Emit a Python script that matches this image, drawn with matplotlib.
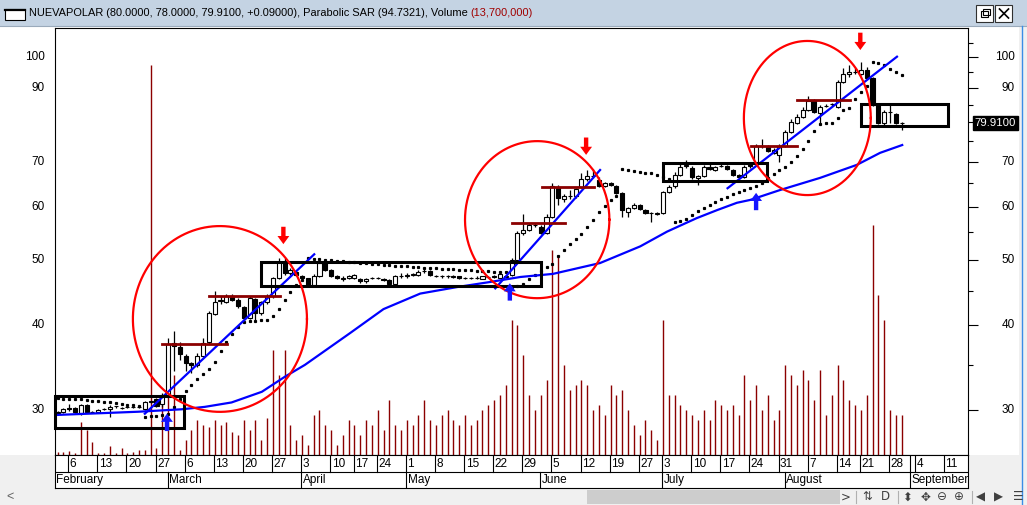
import numpy as np
import matplotlib
matplotlib.use("Agg")
import matplotlib.pyplot as plt
from matplotlib.patches import Rectangle
from matplotlib.ticker import NullFormatter, FixedLocator
from matplotlib.transforms import blended_transform_factory

plt.rcParams['font.family'] = ['Liberation Sans', 'DejaVu Sans']

# ---------------- data ----------------
opens = [29.65, 29.8, 30.2, 30.2, 29.65, 30.5, 29.8, 29.75, 30.1, 30.1,
         30.35, 30.2, 30.3, 30.3, 30.3, 30.1, 30.85, 31.1, 30.6, 31.6,
         37.7, 37.2, 36.1, 35.2, 34.9, 36.1, 37.8, 41.6, 43.5, 43.4,
         44.2, 43.7, 42.6, 41.0, 43.8, 41.7, 43.3, 44.2, 47.0, 49.7,
         47.9, 48.0, 47.4, 47.0, 45.9, 47.4, 49.5, 48.3, 47.3, 46.8,
         47.0, 47.1, 46.8, 46.5, 47.0, 47.0, 46.9, 46.7, 46.1, 47.3,
         47.3, 47.5, 47.5, 48.1, 48.1, 47.4, 47.3, 47.3, 47.2, 47.3,
         47.0, 47.0, 47.0, 46.9, 47.2, 47.2, 47.1, 47.2, 47.5, 50.0,
         54.9, 55.4, 56.3, 56.0, 54.8, 58.0, 64.0, 61.6, 62.2, 62.2,
         64.2, 65.9, 66.6, 65.7, 64.4, 65.05, 64.4, 62.9, 58.9, 59.7,
         60.35, 59.3, 58.7, 58.5, 58.7, 63.1, 64.4, 66.9, 69.0, 68.5,
         66.2, 66.6, 68.7, 68.0, 69.0, 69.0, 68.0, 66.9, 66.4, 69.3,
         69.4, 73.7, 73.6, 72.0, 71.6, 73.8, 77.5, 79.9, 81.4, 83.4,
         86.1, 82.5, 84.7, 85.1, 84.4, 91.8, 94.4, 95.0, 94.4, 95.7,
         93.1, 84.9, 79.8, 82.9, 82.3, 79.82]
highs = [29.9, 30.2, 30.6, 30.3, 30.6, 30.6, 29.9, 30.05, 30.15, 30.5,
         30.4, 30.3, 30.4, 30.4, 30.4, 30.9, 30.9, 31.2, 31.8, 38.3,
         39.2, 37.8, 36.3, 35.3, 36.4, 38.3, 42.0, 45.0, 44.3, 44.6,
         44.5, 43.9, 42.8, 44.2, 44.0, 43.5, 44.6, 47.2, 50.3, 50.3,
         48.6, 48.4, 47.6, 47.1, 47.7, 49.7, 49.6, 48.5, 47.5, 47.3,
         47.6, 47.7, 47.0, 47.0, 47.2, 47.2, 47.0, 46.8, 47.5, 47.9,
         47.8, 47.9, 48.3, 48.5, 48.3, 47.6, 47.5, 47.5, 47.5, 47.4,
         47.2, 47.2, 47.3, 47.4, 47.4, 47.5, 47.8, 47.6, 50.4, 55.3,
         58.5, 56.8, 56.8, 56.3, 58.5, 65.0, 64.5, 62.6, 63.5, 64.0,
         67.3, 68.0, 68.2, 66.5, 65.3, 65.3, 64.6, 63.1, 60.0, 60.7,
         60.6, 59.5, 59.0, 59.0, 63.4, 64.6, 67.5, 69.6, 70.4, 69.0,
         66.9, 69.1, 69.8, 69.0, 70.0, 69.2, 68.2, 67.1, 69.2, 69.6,
         74.2, 75.6, 74.0, 73.2, 74.3, 78.0, 80.8, 82.4, 84.3, 87.5,
         86.5, 84.8, 85.3, 85.5, 92.3, 96.3, 97.3, 96.4, 98.2, 96.5,
         93.5, 85.2, 83.5, 85.4, 82.6, 80.0]
lows = [29.6, 29.7, 29.9, 29.7, 29.5, 29.7, 29.7, 29.7, 30.0, 29.3,
        30.2, 30.1, 30.2, 30.2, 30.2, 30.0, 30.7, 30.3, 30.3, 31.4,
        34.3, 35.5, 34.3, 34.0, 34.7, 35.9, 37.6, 41.4, 43.0, 43.2,
        43.5, 42.5, 40.6, 40.9, 40.7, 41.5, 43.0, 44.0, 46.8, 47.5,
        47.6, 47.4, 46.9, 45.6, 45.7, 47.2, 48.1, 47.2, 46.9, 46.6,
        46.8, 46.9, 46.3, 46.3, 46.8, 46.8, 46.6, 45.9, 46.0, 47.0,
        47.1, 47.3, 47.3, 47.8, 47.3, 47.2, 47.1, 47.1, 47.0, 46.8,
        46.8, 46.8, 46.9, 46.8, 47.0, 47.0, 47.0, 47.0, 47.3, 49.8,
        54.5, 55.2, 56.0, 54.6, 54.6, 57.8, 60.4, 60.9, 61.5, 61.8,
        63.9, 65.5, 66.2, 64.1, 64.1, 64.3, 62.7, 58.0, 58.0, 59.5,
        59.3, 58.5, 56.9, 58.3, 58.5, 62.9, 64.0, 66.7, 68.5, 66.0,
        64.5, 66.4, 68.0, 67.8, 68.6, 68.0, 66.7, 66.2, 66.2, 68.5,
        69.1, 73.3, 72.3, 71.7, 70.0, 73.5, 77.2, 79.6, 81.2, 83.2,
        82.5, 79.8, 84.3, 84.7, 84.0, 91.5, 93.5, 94.5, 94.0, 92.8,
        84.5, 79.5, 79.2, 79.8, 79.6, 78.0]
closes = [29.8, 30.1, 30.05, 29.8, 30.5, 29.8, 29.8, 30.0, 30.1, 30.3,
          30.35, 30.2, 30.3, 30.3, 30.3, 30.8, 30.9, 30.4, 31.6, 37.6,
          37.3, 36.3, 35.2, 34.9, 36.1, 37.7, 41.8, 43.4, 43.7, 44.2,
          43.7, 42.7, 41.0, 43.9, 41.7, 43.3, 44.2, 47.0, 49.7, 47.8,
          48.3, 47.6, 47.1, 45.9, 47.4, 49.5, 48.3, 47.4, 47.1, 47.1,
          47.4, 47.5, 46.5, 46.8, 47.0, 47.0, 46.7, 46.1, 47.3, 47.3,
          47.6, 47.7, 48.0, 48.1, 47.6, 47.4, 47.3, 47.3, 47.4, 47.0,
          47.0, 47.0, 47.1, 47.3, 47.2, 47.3, 47.7, 47.4, 50.0, 54.9,
          55.4, 56.3, 56.3, 54.8, 58.0, 64.4, 61.8, 62.2, 62.2, 63.7,
          65.9, 66.6, 66.6, 64.4, 65.05, 64.6, 62.9, 59.3, 59.7, 60.35,
          59.5, 58.7, 58.7, 58.75, 63.1, 64.2, 66.9, 68.8, 69.2, 66.4,
          66.6, 68.7, 68.3, 68.6, 69.0, 68.3, 66.9, 66.4, 68.8, 68.9,
          73.7, 73.9, 72.6, 72.8, 73.7, 77.5, 80.2, 81.6, 83.4, 86.1,
          83.0, 84.4, 84.7, 85.1, 91.8, 94.4, 95.0, 95.0, 95.7, 93.1,
          84.9, 79.8, 82.9, 82.9, 79.82, 79.91]
volume_m = [1.0, 1.0, 1.4, 0.7, 11.3, 8.6, 4.5, 0.7, 0.7, 3.1,
            0.7, 2.4, 0.7, 1.0, 1.7, 1.7, 133.6, 2.4, 20.6, 37.7,
            27.4, 1.7, 5.1, 8.6, 12.0, 10.3, 9.6, 12.0, 10.3, 11.3,
            7.9, 6.9, 12.0, 8.6, 12.0, 5.1, 12.7, 36.0, 27.4, 36.0,
            10.3, 5.1, 6.9, 3.4, 13.7, 15.4, 10.3, 8.6, 3.4, 6.9,
            12.0, 10.3, 6.9, 12.0, 10.3, 15.4, 8.6, 18.8, 10.3, 8.6,
            12.0, 10.3, 13.7, 18.8, 12.0, 10.3, 13.7, 15.4, 12.0, 10.3,
            13.7, 10.3, 12.0, 15.4, 17.1, 18.8, 20.6, 24.0, 46.2, 44.5,
            34.3, 20.6, 15.4, 20.6, 25.7, 70.2, 68.5, 30.8, 22.3, 24.0,
            25.7, 24.0, 15.4, 17.1, 13.7, 24.0, 20.6, 22.3, 15.4, 10.3,
            6.9, 12.0, 8.6, 5.1, 46.2, 20.6, 20.6, 17.1, 15.4, 13.7,
            12.0, 15.4, 12.0, 18.8, 17.1, 15.4, 17.1, 13.7, 27.4, 18.8,
            24.0, 15.4, 20.6, 12.0, 15.4, 30.8, 27.4, 24.0, 29.1, 25.7,
            18.8, 29.1, 13.7, 20.6, 30.8, 25.7, 18.8, 17.1, 15.4, 20.6,
            78.8, 54.8, 46.2, 15.4, 13.7, 13.7]
# moving average (blue curve) read at these bar positions
ma_idx = [-0.4, 5.2, 13.8, 21.3, 25.3, 29.9, 35.1, 39.1, 42.5, 50.3, 56.0,
          62.3, 68.6, 74.3, 79.5, 85.1, 93.2, 100.1, 104.7, 109.8, 113.3,
          116.7, 119.0, 124.1, 131.0, 137.3, 141.3, 145.1]
ma_val = [29.47, 29.6, 29.8, 30.05, 30.3, 30.76, 31.9, 33.6, 34.97, 39.0, 42.3,
          44.6, 45.6, 46.4, 47.2, 47.7, 49.5, 52.4, 55.1, 57.7, 59.3,
          60.8, 61.4, 63.5, 66.2, 69.2, 72.1, 74.05]
sar_start = 31.2

week_idx = [-3, 2, 7, 12, 17, 22, 27, 32, 37, 42, 47, 51, 55, 60, 65, 70, 75,
            80, 85, 90, 95, 100, 104, 109, 114, 119, 124, 129, 134, 138, 143,
            147.4, 152.4]
week_lbl = ['30', '6', '13', '20', '27', '6', '13', '20', '27', '3', '10', '17',
            '24', '1', '8', '15', '22', '29', '5', '12', '19', '27', '3', '10',
            '17', '24', '31', '7', '14', '21', '28', '4', '11']
month_idx = [-0.43, 19, 42, 60, 83, 104, 125, 146.5]
month_lbl = ['February', 'March', 'April', 'May', 'June', 'July', 'August',
             'September']
price_labels = [30, 40, 50, 60, 70, 90, 100]
major_ticks = [30, 40, 50, 60, 70, 80, 90, 100]
minor_ticks = [35, 45, 55, 65, 75, 85, 95, 105]
last_price = 79.91

# annotations (bar index / price)
trend_lines = [((15.0, 29.6), (44.1, 51.0)),
               ((75.2, 45.4), (93.2, 68.0)),
               ((115.1, 63.9), (144.2, 100.1))]
resist_lines = [(18.0, 29.1, 37.6), (26.1, 38.2, 44.2), (78.0, 87.2, 56.8),
                (83.2, 92.1, 64.2), (119.1, 127.1, 73.8), (127.1, 136.2, 86.3)]
boxes = [(-0.43, 21.8, 28.2, 31.4), (34.9, 83.0, 45.7, 49.7),
         (104.0, 121.9, 65.5, 69.6), (138.0, 152.9, 79.0, 85.1)]
circles = [(27.9, 40.9, 14.95, 0.317), (82.4, 57.4, 12.4, 0.268),
           (128.8, 81.2, 10.9, 0.263)]
down_arrows = [(38.8, 52.8), (90.8, 71.6), (137.9, 102.4)]
up_arrows = [(18.8, 29.6), (77.7, 46.2), (120.0, 62.9)]

# ---------------- helpers ----------------
def parabolic_sar(h, l, start, step=0.02, amax=0.2):
    n = len(h)
    sar = np.empty(n)
    bull = False
    af = step
    ep = l[0]
    sar[0] = start
    for i in range(1, n):
        prev = sar[i - 1]
        s = prev + af * (ep - prev)
        if bull:
            s = min(s, l[i - 1], l[max(i - 2, 0)])
            if l[i] < s:
                bull, s, ep, af = False, ep, l[i], step
            elif h[i] > ep:
                ep = h[i]; af = min(af + step, amax)
        else:
            s = max(s, h[i - 1], h[max(i - 2, 0)])
            if h[i] > s:
                bull, s, ep, af = True, ep, h[i], step
            elif l[i] < ep:
                ep = l[i]; af = min(af + step, amax)
        sar[i] = s
    return sar


W, H = 1027, 505
PX0, PX1, PY0, PY1 = 55, 968, 28, 455
XLIM = (-0.43, 156.4)
YLIM = (25.71, 110.4)


def frect(x0, y0, x1, y1):
    return [x0 / W, 1 - y1 / H, (x1 - x0) / W, (y1 - y0) / H]


fig = plt.figure(figsize=(W / 100, H / 100), dpi=100)
fig.patch.set_facecolor('white')

bg = fig.add_axes([0, 0, 1, 1], zorder=0)
bg.set_xlim(0, W)
bg.set_ylim(H, 0)
bg.axis('off')

# window chrome
bg.add_patch(Rectangle((0, 0), W, 26, fc='#C4D3E3', ec='none'))
bg.plot([0, W], [26, 26], color='#9AAABB', lw=0.8)
bg.add_patch(Rectangle((5, 9), 20, 11, fc='white', ec='black', lw=0.8))
bg.plot([5, 25], [9.6, 9.6], color='black', lw=1.6)
for bx in (976, 995):
    bg.add_patch(Rectangle((bx, 5), 17, 17, fc='white', ec='#303030', lw=0.8))
bg.add_patch(Rectangle((980.5, 11), 7, 6, fc='white', ec='black', lw=0.8))
bg.add_patch(Rectangle((983, 8.5), 7, 6, fc='none', ec='black', lw=0.8))
bg.plot([999.5, 1008.5], [9, 18], color='black', lw=1.2)
bg.plot([999.5, 1008.5], [18, 9], color='black', lw=1.2)

bg.add_patch(Rectangle((0, 455), PX0, 33, fc='#F0F0F0', ec='none'))
bg.add_patch(Rectangle((PX1, 455), W - PX1, 33, fc='#F0F0F0', ec='none'))
bg.add_patch(Rectangle((0, 488), W, 17, fc='#F0F0F0', ec='none'))
bg.add_patch(Rectangle((1019, 26), 8, 462, fc='#F0F0F0', ec='none'))
bg.plot([1021.5, 1021.5], [26, 505], color='#3A8EE6', lw=1.0)
bg.add_patch(Rectangle((587, 490), 253, 14, fc='#CDCDCD', ec='none'))
bg.text(10, 497, '<', fontsize=9, color='#606060', ha='center', va='center')
icons = [(846, '>'), (867, '⇅'), (885, 'D'), (907, '⬍'), (925, '✥'),
         (942, '⊖'), (959, '⊕'), (980, '◀'), (998, '▶'), (1018, '☰')]
for ix, s in icons:
    bg.text(ix, 497, s, fontsize=8.5, color='#404040', ha='center', va='center',
            family=['DejaVu Sans'])
for sx in (856, 898, 972):
    bg.plot([sx, sx], [491, 503], color='#B0B0B0', lw=0.8)

t1 = bg.text(29, 13.5, 'NUEVAPOLAR (80.0000, 78.0000, 79.9100, +0.09000), '
             'Parabolic SAR (94.7321), Volume ', fontsize=7.95, color='black',
             ha='left', va='center')
fig.canvas.draw()
ext = t1.get_window_extent()
xe = bg.transData.inverted().transform((ext.x1, ext.y0))[0]
bg.text(xe, 13.5, '(13,700,000)', fontsize=7.95, color='#A00000', ha='left',
        va='center')

# volume axes (behind)
axv = fig.add_axes(frect(PX0, PY0, PX1, PY1), zorder=1)
axv.set_facecolor('white')
x = np.arange(len(closes))
axv.vlines(x, 0, volume_m, colors='#8B0000', linewidth=1.0)
axv.set_xlim(*XLIM)
axv.set_ylim(0, 146.2)
axv.axis('off')

# price axes
ax = fig.add_axes(frect(PX0, PY0, PX1, PY1), zorder=2)
ax.set_facecolor('none')
ax.set_yscale('log')
ax.set_xlim(*XLIM)
ax.set_ylim(*YLIM)
ax.set_xticks([])
ax.yaxis.tick_right()
ax.yaxis.set_major_locator(FixedLocator(major_ticks))
ax.yaxis.set_minor_locator(FixedLocator(minor_ticks))
ax.yaxis.set_major_formatter(NullFormatter())
ax.yaxis.set_minor_formatter(NullFormatter())
ax.tick_params(axis='y', which='major', length=7.5, width=0.8, direction='out')
ax.tick_params(axis='y', which='minor', length=3.5, width=0.8, direction='out')
for sp in ax.spines.values():
    sp.set_color('black')
    sp.set_linewidth(0.8)

o, h, l, c = (np.array(v, dtype=float) for v in (opens, highs, lows, closes))
ax.vlines(x, l, h, colors='black', linewidth=0.9, zorder=3)
lo = np.minimum(o, c)
hi = np.maximum(o, c)
fill = ['white' if cc >= oo else 'black' for oo, cc in zip(o, c)]
ax.bar(x, np.maximum(hi - lo, 1e-3), bottom=lo, width=0.7, color=fill,
       edgecolor='black', linewidth=0.8, zorder=4)

sar = parabolic_sar(h, l, sar_start)
ax.plot(x, sar, ls='none', marker='s', ms=1.3, color='black', zorder=5)

ax.plot(ma_idx, ma_val, color='#0000FF', lw=1.6, zorder=6)
for (x0, y0), (x1, y1) in trend_lines:
    ax.plot([x0, x1], [y0, y1], color='#0000FF', lw=1.6, zorder=6)
for x0, x1, yv in resist_lines:
    ax.plot([x0, x1], [yv, yv], color='#8B0000', lw=2.0, zorder=6)
for x0, x1, y0, y1 in boxes:
    ax.add_patch(Rectangle((x0, y0), x1 - x0, y1 - y0, fill=False, ec='black',
                           lw=2.2, zorder=7, clip_on=False))
tt = np.linspace(0, 2 * np.pi, 400)
for cx, cy, rx, ry in circles:
    ax.plot(cx + rx * np.cos(tt), cy * np.exp(ry * np.sin(tt)), color='#FF0000',
            lw=1.6, zorder=7)
arrow_style = 'simple,head_length=0.65,head_width=0.95,tail_width=0.35'
for ix, pv in down_arrows:
    ax.annotate('', xy=(ix, pv), xytext=(0, 12.5), textcoords='offset points',
                arrowprops=dict(arrowstyle=arrow_style, mutation_scale=9,
                                fc='#FF0000', ec='none', shrinkA=0, shrinkB=0),
                zorder=8)
for ix, pv in up_arrows:
    ax.annotate('', xy=(ix, pv), xytext=(0, -12.5), textcoords='offset points',
                arrowprops=dict(arrowstyle=arrow_style, mutation_scale=9,
                                fc='#1414FF', ec='none', shrinkA=0, shrinkB=0),
                zorder=8)

# price labels
trans = blended_transform_factory(bg.transData, ax.transData)
for v in price_labels:
    ax.text(45, v, str(v), transform=trans, ha='right', va='center',
            fontsize=8.5, clip_on=False)
    ax.text(1015, v, str(v), transform=trans, ha='right', va='center',
            fontsize=8.5, clip_on=False)
ax.text(995.5, last_price, f'{last_price:.4f}', transform=trans, ha='center',
        va='center', fontsize=8.2, color='white', clip_on=False,
        bbox=dict(boxstyle='square,pad=0.18', fc='black', ec='black'))

# date axis
axd = fig.add_axes(frect(PX0, PY1, PX1, 488), zorder=2)
axd.set_xlim(*XLIM)
axd.set_ylim(0, 2)
axd.set_xticks([])
axd.set_yticks([])
for sp in axd.spines.values():
    sp.set_color('black')
    sp.set_linewidth(0.8)
axd.axhline(1, color='black', lw=0.8)
for wi, wl in zip(week_idx, week_lbl):
    axd.plot([wi - 0.15, wi - 0.15], [1, 2], color='black', lw=0.8)
    axd.text(wi + 0.1, 1.47, wl, ha='left', va='center', fontsize=8.5,
             clip_on=True)
for mi, ml in zip(month_idx, month_lbl):
    axd.plot([mi - 0.1, mi - 0.1], [0, 1], color='black', lw=0.8)
    axd.text(mi + 0.15, 0.47, ml, ha='left', va='center', fontsize=8.5,
             clip_on=True)
axd.plot([146.5, 146.5], [1, 2], color='black', lw=0.8)

fig.savefig('out.png', dpi=100)
